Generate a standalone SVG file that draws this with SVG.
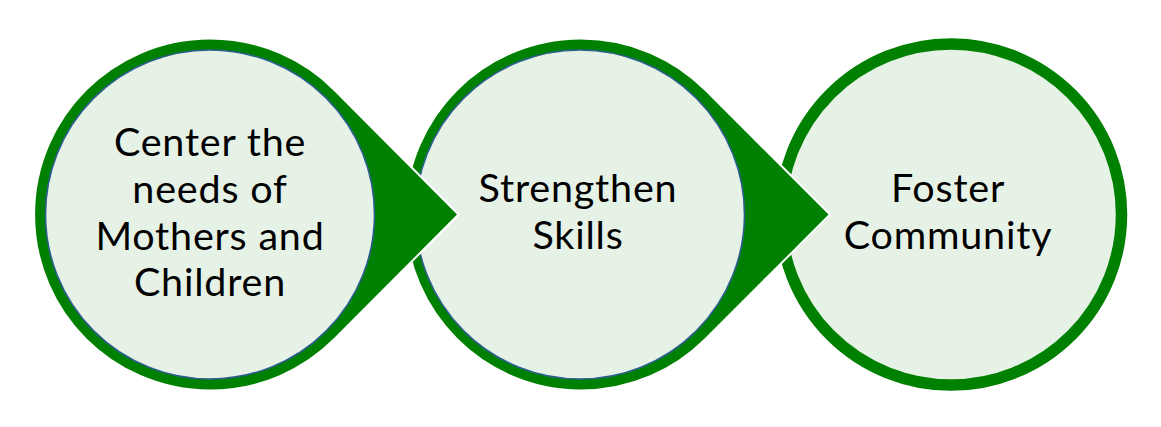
<svg xmlns="http://www.w3.org/2000/svg" width="1161" height="427" viewBox="0 0 1161 427">
<style>
.drop{fill:#008000;stroke:#ffffff;stroke-width:2}
.inner{fill:#e6f2e6;stroke:#2f5f8f;stroke-width:1.6}
.ring{fill:#e6f2e6;stroke:#008000;stroke-width:11.5}
.lbl{font-family:Lato,"Liberation Sans",sans-serif;font-size:39.5px;letter-spacing:0.8px;fill:#000000;text-anchor:middle}
</style>
<rect width="1161" height="427" fill="#ffffff"/>
<g id="node3">
<circle class="ring" cx="951" cy="214.5" r="170.5"/>
<text class="lbl" x="948" y="202">Foster</text>
<text class="lbl" x="948" y="249">Community</text>
</g>
<g id="node2">
<path class="drop" d="M705,89.5 A176,176 0 1 0 705,339.5 L830,214.5 Z"/>
<circle class="inner" cx="580" cy="214.5" r="164.5"/>
<text class="lbl" x="578" y="202">Strengthen</text>
<text class="lbl" x="578" y="249">Skills</text>
</g>
<g id="node1">
<path class="drop" d="M334.5,90 A176,176 0 1 0 334.5,339 L458.5,214.5 Z"/>
<circle class="inner" cx="210" cy="214.5" r="164.5"/>
<text class="lbl" x="210" y="156">Center the</text>
<text class="lbl" x="210" y="202.5">needs of</text>
<text class="lbl" x="210" y="249.5">Mothers and</text>
<text class="lbl" x="210" y="296">Children</text>
</g>
<g id="connectors"></g>
</svg>
